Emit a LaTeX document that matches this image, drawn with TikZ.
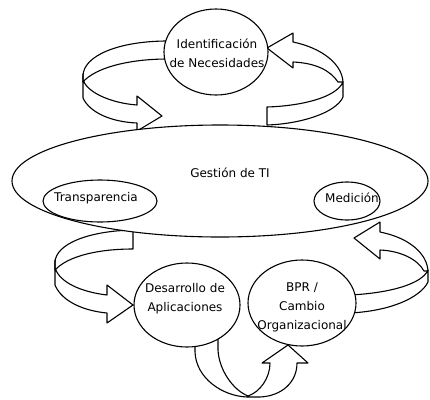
\documentclass[tikz,border=0pt]{standalone}
\usepackage{fontspec}
\setmainfont{DejaVu Sans}
\usetikzlibrary{shapes.geometric, backgrounds}
\tikzset{
  elipseBase/.style={ellipse, draw=black, line width=1.1pt, fill=white, inner sep=0pt},
  textoElipse/.style={align=center, inner sep=0pt, font=\fontsize{12}{19}\selectfont},
  cinta/.style={draw=black, line width=1.1pt, fill=white, line join=round},
}

\begin{document}
\begin{tikzpicture}[x=1pt, y=-1pt]
  \useasboundingbox (0,0) rectangle (430,399);
  % elipses
  \node[elipseBase, minimum width=416, minimum height=112] (gestion) at (220,181) {};
  \node[elipseBase, minimum width=114, minimum height=42] (transp) at (100,201) {};
  \node[elipseBase, minimum width=66, minimum height=38] (medicion) at (347,201) {};
  \node[elipseBase, minimum width=104, minimum height=86] (necesid) at (216,52) {};
  \node[elipseBase, minimum width=106, minimum height=84] (desarr) at (187,305) {};
  \node[elipseBase, minimum width=108, minimum height=86] (bpr) at (302,303) {};
  % textos
  \node[textoElipse] (tGestion) at ([shift={(10,-8)}]gestion.center) {Gestión de TI};
  \node[textoElipse] (tTransp) at ([shift={(-4,-3)}]transp.center) {Transparencia};
  \node[textoElipse] (tMedicion) at ([shift={(5,-3)}]medicion.center) {Medición};
  \node[textoElipse] (tNecesid) at ([shift={(1,1)}]necesid.center) {Identificación\\de Necesidades};
  \node[textoElipse] (tDesarr) at ([shift={(-2,-6)}]desarr.center) {Desarrollo de\\Aplicaciones};
  \node[textoElipse] (tBpr) at ([shift={(0,4)}]bpr.center) {BPR /\\Cambio\\Organizacional};
  % flechas curvas
  \begin{scope}[on background layer]
    % de Identificacion a Gestion
    \draw[cinta] (168,41) .. controls (118,41) and (83,56) .. (83,76) -- (83,82)
      .. controls (95,68) and (128,59) .. (168,59) -- cycle;
    \draw[cinta] (83,74) -- (83,98) .. controls (90,113) and (112,122) .. (137,123)
      -- (137,131) -- (162,116) -- (137,96) -- (137,105)
      .. controls (110,103) and (87,92) .. (83,80) -- cycle;
    % de Gestion a Identificacion
    \draw[cinta] (293,42) .. controls (322,48) and (342,64) .. (343,82) -- (338,82)
      .. controls (330,70) and (315,63) .. (293,62) -- (293,68) -- (267,48) -- (293,33) -- cycle;
    \draw[cinta] (267,107) .. controls (300,106) and (336,98) .. (343,82) -- (343,97)
      .. controls (336,113) and (300,124) .. (267,125) -- cycle;
    % de Gestion a Desarrollo
    \draw[cinta] (133,230) .. controls (88,231) and (56,244) .. (55,262) -- (55,270)
      .. controls (68,256) and (98,249) .. (133,249) -- cycle;
    \draw[cinta] (55,260) -- (55,285) .. controls (62,302) and (85,311) .. (107,313)
      -- (107,323) -- (133,305) -- (107,285) -- (107,295)
      .. controls (82,292) and (60,283) .. (55,268) -- cycle;
    % de BPR a Gestion
    \draw[cinta] (380,232) .. controls (410,238) and (427,254) .. (428,271) -- (424,271)
      .. controls (418,260) and (402,251) .. (380,250) -- (380,259) -- (354,238) -- (380,222) -- cycle;
    \draw[cinta] (350,295) .. controls (390,293) and (422,284) .. (428,270) -- (428,282)
      .. controls (420,298) and (390,311) .. (350,313) -- cycle;
    % de Desarrollo a BPR
    \draw[cinta] (195,336) -- (195,352) .. controls (196,378) and (222,396) .. (247,397)
      -- (260,397) .. controls (282,396) and (297,382) .. (297,363)
      -- (308,363) -- (288,345) -- (262,363) -- (270,363)
      .. controls (270,378) and (260,392) .. (248,396)
      .. controls (233,390) and (219,370) .. (218,350) -- (218,336) -- cycle;
  \end{scope}
\end{tikzpicture}
\end{document}
